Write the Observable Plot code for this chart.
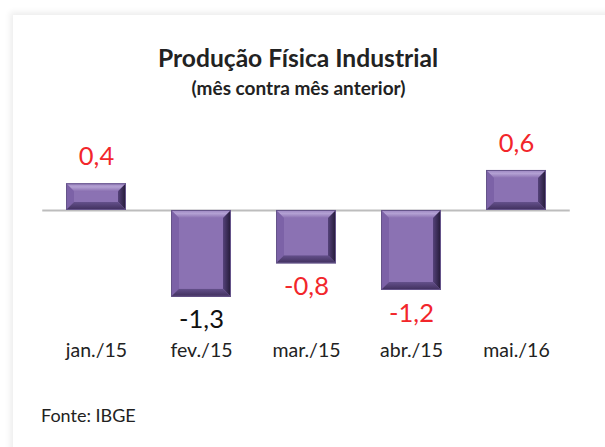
<!DOCTYPE html>
<html>
<head>
<meta charset="utf-8">
<script src="https://cdn.jsdelivr.net/npm/d3@7"></script>
<script src="https://cdn.jsdelivr.net/npm/@observablehq/plot@0.6"></script>
<style>
  html, body { margin: 0; padding: 0; background: #ffffff; }
  #wrap { position: relative; width: 605px; height: 447px; overflow: hidden; font-family: Lato, "Open Sans", sans-serif; }
  #card { position: absolute; left: 13px; top: 15px; width: 640px; height: 480px; background: #fff;
          box-shadow: -3px -3px 6px rgba(0,0,0,0.07); }
  #title { position: absolute; left: 13px; width: 570px; top: 46px; line-height: 1; text-align: center; font-weight: bold; font-size: 24.6px; color: #222; }
  #subtitle { position: absolute; left: 13px; width: 571px; top: 78px; line-height: 1; text-align: center; font-weight: bold; font-size: 19px; color: #222; }
  #chart { position: absolute; left: 0; top: 100px; }
  #source { position: absolute; left: 41px; top: 406px; line-height: 1; font-size: 18px; color: #222; }
</style>
</head>
<body>
<div id="wrap">
  <div id="card"></div>
  <div id="title">Produção Física Industrial</div>
  <div id="subtitle">(mês contra mês anterior)</div>
  <div id="chart"></div>
  <div id="source">Fonte: IBGE</div>
</div>
<script>
const months = ["jan./15", "fev./15", "mar./15", "abr./15", "mai./16"];
const values = [0.4, -1.3, -0.8, -1.2, 0.6];
const labels = ["0,4", "-1,3", "-0,8", "-1,2", "0,6"];

const data = months.map((m, i) => ({month: m, value: values[i], label: labels[i]}));
const labelFill = d => d.month === "fev./15" ? "#111" : "#f2262b";

const plot = Plot.plot({
  width: 605,
  height: 280,
  marginTop: 43.3,
  marginBottom: 70,
  marginLeft: 42.25,
  marginRight: 35.25,
  style: {fontFamily: "Lato, 'Open Sans', sans-serif", background: "transparent"},
  x: {domain: months, paddingInner: 0.43, paddingOuter: 0.215, label: null},
  y: {domain: [-1.5, 1], axis: null},
  marks: [
    Plot.ruleY([0], {stroke: "#bdbdbd", strokeWidth: 2}),
    Plot.barY(data, {x: "month", y: "value", fill: "#8a6fb0"}),
    Plot.text(data.filter(d => d.value >= 0), {
      x: "month", y: "value", text: "label", dy: -27, fontSize: 25.5, fill: labelFill
    }),
    Plot.text(data.filter(d => d.value < 0), {
      x: "month", y: "value", text: "label", dy: 23, fontSize: 25.5, fill: labelFill
    }),
    Plot.axisX({tickSize: 0, tickPadding: 33, fontSize: 19.5, fill: "#222", label: null})
  ]
});

document.getElementById("chart").appendChild(plot);

// bevel decoration derived from the rendered bars
const rects = plot.querySelectorAll("g[aria-label='bar'] rect");
rects.forEach(r => {
  const x = +r.getAttribute("x"), y = +r.getAttribute("y");
  const w = +r.getAttribute("width"), h = +r.getAttribute("height");
  const g = r.parentNode;
  const b = Math.min(8, h / 3);
  const X0 = x, X1 = x + w, Y0 = y, Y1 = y + h;
  const x0 = X0 + b, x1 = X1 - b, y0 = Y0 + b, y1 = Y1 - b;
  const poly = (pts, fill) => {
    const p = document.createElementNS("http://www.w3.org/2000/svg", "polygon");
    p.setAttribute("points", pts.map(q => q.join(",")).join(" "));
    p.setAttribute("fill", fill);
    g.appendChild(p);
  };
  poly([[X0,Y0],[X1,Y0],[x1,y0],[x0,y0]], "url(#bevTop)");
  poly([[X0,Y0],[x0,y0],[x0,y1],[X0,Y1]], "#7c62a7");
  poly([[X1,Y0],[X1,Y1],[x1,y1],[x1,y0]], "url(#bevRight)");
  poly([[X0,Y1],[x0,y1],[x1,y1],[X1,Y1]], "url(#bevBottom)");
  poly([[x0,y0],[x1,y0],[x1,y1],[x0,y1]], "#8b72b3");
  const o = document.createElementNS("http://www.w3.org/2000/svg", "rect");
  o.setAttribute("x", X0 + 0.5); o.setAttribute("y", Y0 + 0.5);
  o.setAttribute("width", w - 1); o.setAttribute("height", h - 1);
  o.setAttribute("fill", "none"); o.setAttribute("stroke", "#65548a"); o.setAttribute("stroke-width", 1);
  g.appendChild(o);
});

const defs = d3.select(plot).insert("defs", ":first-child");
const lg = (id, x2, y2, stops) => {
  const gr = defs.append("linearGradient").attr("id", id).attr("x1", 0).attr("y1", 0).attr("x2", x2).attr("y2", y2);
  stops.forEach(([o, c]) => gr.append("stop").attr("offset", o).attr("stop-color", c));
};
lg("bevTop", 0, 1, [[0, "#9b84c0"], [0.45, "#b3a1d3"], [1, "#8a70b1"]]);
lg("bevRight", 1, 0, [[0, "#55427a"], [1, "#221935"]]);
lg("bevBottom", 0, 1, [[0, "#64508b"], [1, "#3f2f5c"]]);
</script>
</body>
</html>
